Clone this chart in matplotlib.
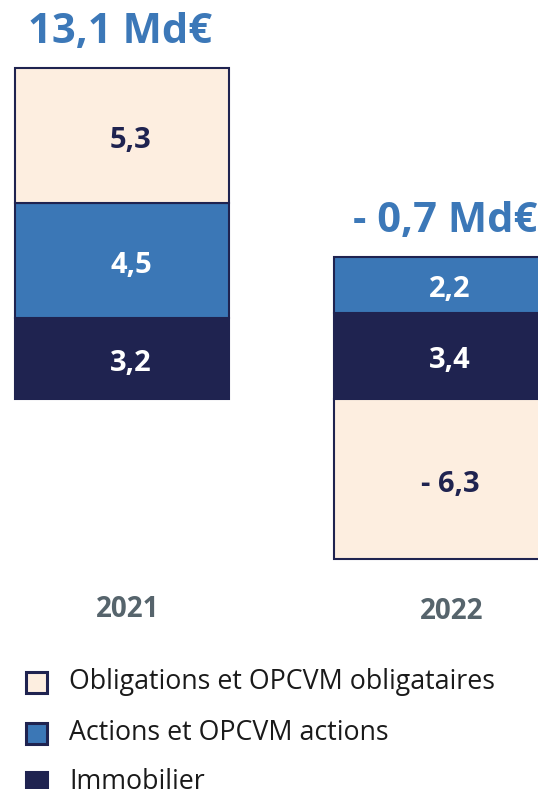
import matplotlib
matplotlib.use("Agg")
import matplotlib.pyplot as plt
from matplotlib.patches import Rectangle
import numpy as np

plt.rcParams['font.family'] = ['Open Sans', 'DejaVu Sans']

years = ["2021", "2022"]
categories = ["Obligations et OPCVM obligataires", "Actions et OPCVM actions", "Immobilier"]
obligations = [5.3, -6.3]
actions = [4.5, 2.2]
immobilier = [3.2, 3.4]
totals = [13.1, -0.7]

PEACH = "#FDEEE0"
BLUE = "#3B77B6"
NAVY = "#1F2350"
colors = {categories[0]: PEACH, categories[1]: BLUE, categories[2]: NAVY}
text_colors = {categories[0]: NAVY, categories[1]: "white", categories[2]: "white"}
series = {categories[0]: obligations, categories[1]: actions, categories[2]: immobilier}
stack_order = [categories[2], categories[1], categories[0]]


def fr(v):
    s = f"{abs(v):.1f}".replace('.', ',')
    return ("- " if v < 0 else "") + s


W, H = 538, 789
fig = plt.figure(figsize=(W / 100, H / 100), dpi=100)
ax = fig.add_axes([0, 0, 1, 1])
ax.set_xlim(-0.382, 1.304)
ax.set_ylim(-15.32, 15.68)
ax.axis('off')

x = np.arange(len(years))
width = 0.671
pos_base = np.zeros(len(years))
neg_base = np.zeros(len(years))
for cat in stack_order:
    vals = np.array(series[cat])
    bottoms = np.where(vals >= 0, pos_base, neg_base)
    ax.bar(x, vals, width=width, bottom=bottoms, color=colors[cat],
           edgecolor=NAVY, linewidth=1.5, zorder=2)
    for xi, b, v in zip(x, bottoms, vals):
        ax.annotate(fr(v), (xi, b + v / 2), xytext=(9, -5), textcoords='offset pixels',
                    ha='center', va='center', fontsize=21, fontweight='bold',
                    color=text_colors[cat], zorder=3)
    pos_base = pos_base + np.where(vals >= 0, vals, 0)
    neg_base = neg_base + np.where(vals < 0, vals, 0)

total_offsets = [-2, 4]
for xi, top, t, off in zip(x, pos_base, totals, total_offsets):
    ax.annotate(f"{fr(t)} Md€", (xi, top), xytext=(off, 25), textcoords='offset pixels',
                ha='center', va='baseline', fontsize=30, fontweight='bold', color="#3C78B8")

year_offsets = [(6, -50), (11, -52)]
for xi, yr, (ox, oy) in zip(x, years, year_offsets):
    ax.annotate(yr, (xi, neg_base.min()), xytext=(ox, oy), textcoords='offset pixels',
                ha='center', va='center', fontsize=20, fontweight='bold', color="#56646C")

# Legend
leg_rows_y = [682, 733, 782]
for cat, yy in zip(categories, leg_rows_y):
    sq = 21
    fig.add_artist(Rectangle(((36 - sq / 2) / W, 1 - (yy + sq / 2) / H), sq / W, sq / H,
                             transform=fig.transFigure, facecolor=colors[cat],
                             edgecolor=NAVY, linewidth=2.2))
    fig.text(69 / W, 1 - yy / H, cat, ha='left', va='center', fontsize=19.3, color="#1A1A1A")

fig.savefig("out.png", dpi=100)
